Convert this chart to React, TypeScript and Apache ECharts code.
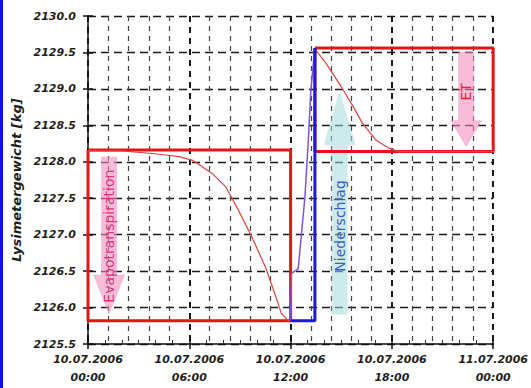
import React, { useEffect, useRef } from "react";
import * as echarts from "echarts";

// Hours since 10.07.2006 00:00
const xTickLabels = [
  "10.07.2006\n00:00",
  "10.07.2006\n06:00",
  "10.07.2006\n12:00",
  "10.07.2006\n18:00",
  "11.07.2006\n00:00",
];

// Weight decline by evapotranspiration until noon
const evapHours = [0, 2, 4, 5.4, 6.2, 7.35, 8.15, 8.9, 9.7, 10.5, 11.05, 11.45, 11.85, 12];
const evapWeight = [2128.15, 2128.15, 2128.11, 2128.07, 2128.02, 2127.84, 2127.66, 2127.34, 2126.97, 2126.56, 2126.2, 2125.92, 2125.82, 2125.82];

// Measured rise during the rain event
const rainHours = [12.0, 12.05, 12.45, 12.85, 13.05, 13.2, 13.42];
const rainWeight = [2125.83, 2126.47, 2126.53, 2127.52, 2128.3, 2128.98, 2129.53];

// Precipitation step (balance)
const stepHours = [12, 13.44, 13.44];
const stepWeight = [2125.82, 2125.82, 2129.56];

// Weight decline after the rain (ET)
const etHours = [13.5, 14.1, 15.0, 15.7, 16.25, 17.05, 17.8, 18.4, 24];
const etWeight = [2129.53, 2129.35, 2129.03, 2128.76, 2128.53, 2128.3, 2128.19, 2128.14, 2128.14];

// Balance windows
const boxStart = [0, 13.44];
const boxEnd = [12, 24];
const boxTop = [2128.16, 2129.56];
const boxBottom = [2125.82, 2128.14];

// Annotation arrows: position (h), tail, tip, label centre (kg)
const arrowLabels = ["Evapotranspiration", "Niederschlag", "ET"];
const arrowHour = [1.25, 14.9, 22.4];
const arrowTail = [2128.07, 2125.9, 2129.51];
const arrowTip = [2125.9, 2128.98, 2128.2];
const arrowLabelAt = [2126.98, 2127.12, 2128.96];

const arrowFill = ["rgba(243,140,188,0.58)", "rgba(165,218,218,0.55)", "rgba(243,140,188,0.58)"];
const arrowText = ["#e0347c", "#3a5ccc", "#e8243c"];
const arrowHeadLen = [40, 55, 27];

const pairs = (xs: number[], ys: number[]) => xs.map((x, i) => [x, ys[i]]);

const boxPath = (i: number) => [
  [boxStart[i], boxTop[i]],
  [boxEnd[i], boxTop[i]],
  [boxEnd[i], boxBottom[i]],
  [boxStart[i], boxBottom[i]],
  [boxStart[i], boxTop[i]],
];

const tickFont = {
  fontFamily: "DejaVu Sans",
  fontWeight: "bold" as const,
  fontStyle: "italic" as const,
  fontSize: 11,
  color: "#1e1e1e",
};

export default function App() {
  const ref = useRef<HTMLDivElement>(null);

  useEffect(() => {
    if (!ref.current) return;
    const chart = echarts.init(ref.current, undefined, { renderer: "svg" });

    const lineBase = {
      type: "line" as const,
      symbol: "none",
      showSymbol: false,
      xAxisIndex: 0,
      yAxisIndex: 0,
    };

    chart.setOption({
      animation: false,
      backgroundColor: "#ffffff",
      grid: { left: 88, right: 34, top: 16, bottom: 44, containLabel: false },
      graphic: [
        {
          type: "rect",
          left: 0,
          top: 0,
          shape: { x: 0, y: 0, width: 3, height: 388 },
          style: { fill: "#1212d8" },
        },
      ],
      xAxis: [
        {
          type: "value",
          min: 0,
          max: 24,
          interval: 6,
          position: "bottom",
          axisLine: { lineStyle: { color: "#111", width: 1.5 } },
          axisTick: { show: true, length: 5, lineStyle: { color: "#111", width: 1.5 } },
          axisLabel: {
            ...tickFont,
            margin: 6,
            lineHeight: 18,
            formatter: (v: number) => xTickLabels[Math.round(v / 6)] ?? "",
          },
          splitLine: { show: true, lineStyle: { color: "#1a1a1a", width: 2, type: [6, 5] } },
          minorTick: { show: false },
          minorSplitLine: { show: true, lineStyle: { color: "#444", width: 1.2, type: [5, 5] } },
        },
        {
          type: "value",
          min: 0,
          max: 24,
          interval: 6,
          position: "bottom",
          axisLine: { show: false },
          axisTick: { show: true, inside: true, length: 5, lineStyle: { color: "#111", width: 1.5 } },
          minorTick: { show: true, splitNumber: 6, length: 4, lineStyle: { color: "#333", width: 1 } },
          axisLabel: { show: false },
          splitLine: { show: false },
        },
      ],
      yAxis: [
        {
          type: "value",
          min: 2125.5,
          max: 2130,
          interval: 0.5,
          name: "Lysimetergewicht [kg]",
          nameLocation: "middle",
          nameRotate: 90,
          nameGap: 62,
          nameTextStyle: {
            fontFamily: "DejaVu Sans",
            fontWeight: "bold",
            fontStyle: "italic",
            fontSize: 13,
            color: "#1e1e1e",
          },
          axisLine: { show: true, lineStyle: { color: "#111", width: 1.5 } },
          axisTick: { show: true, length: 5, lineStyle: { color: "#111", width: 1.5 } },
          axisLabel: { ...tickFont, margin: 12, formatter: (v: number) => v.toFixed(1) },
          splitLine: { show: true, lineStyle: { color: "#1a1a1a", width: 1.4, type: [8, 5] } },
        },
        {
          type: "value",
          min: 2125.5,
          max: 2130,
          interval: 0.5,
          position: "left",
          axisLine: { show: false },
          axisTick: { show: true, inside: true, length: 5, lineStyle: { color: "#111", width: 1.5 } },
          axisLabel: { show: false },
          splitLine: { show: false },
        },
      ],
      series: [
        {
          type: "custom",
          name: "arrows",
          xAxisIndex: 0,
          yAxisIndex: 0,
          z: 1,
          encode: { x: 0, y: [1, 2] },
          data: arrowHour.map((h, i) => [h, arrowTail[i], arrowTip[i], arrowLabelAt[i]]),
          renderItem: (params: any, api: any) => {
            const i = params.dataIndex;
            const pTail = api.coord([api.value(0), api.value(1)]);
            const pTip = api.coord([api.value(0), api.value(2)]);
            const pLab = api.coord([api.value(0), api.value(3)]);
            const dir = pTip[1] > pTail[1] ? 1 : -1;
            const cx = pTail[0];
            const sw = 8;
            const hw = 16;
            const baseY = pTip[1] - dir * arrowHeadLen[i];
            const points = [
              [cx - sw, pTail[1]],
              [cx + sw, pTail[1]],
              [cx + sw, baseY],
              [cx + hw, baseY],
              [cx, pTip[1]],
              [cx - hw, baseY],
              [cx - sw, baseY],
            ];
            return {
              type: "group",
              children: [
                { type: "polygon", shape: { points }, style: { fill: arrowFill[i] } },
                {
                  type: "text",
                  x: cx,
                  y: pLab[1],
                  rotation: Math.PI / 2,
                  style: {
                    text: arrowLabels[i],
                    fill: arrowText[i],
                    font: "14px 'DejaVu Sans'",
                    align: "center",
                    verticalAlign: "middle",
                  },
                },
              ],
            };
          },
        },
        { ...lineBase, name: "box1", z: 3, data: boxPath(0), lineStyle: { color: "#e81414", width: 3 } },
        { ...lineBase, name: "box2", z: 3, data: boxPath(1), lineStyle: { color: "#e81414", width: 3 } },
        { ...lineBase, name: "evap", z: 4, data: pairs(evapHours, evapWeight), lineStyle: { color: "#e0443f", width: 1.2 } },
        { ...lineBase, name: "et", z: 4, data: pairs(etHours, etWeight), lineStyle: { color: "#e0443f", width: 1.2 } },
        { ...lineBase, name: "rain", z: 5, data: pairs(rainHours, rainWeight), lineStyle: { color: "#7a55e0", width: 1.5 } },
        { ...lineBase, name: "step", z: 5, data: pairs(stepHours, stepWeight), lineStyle: { color: "#1a1ad8", width: 3 } },
      ],
    });

    return () => chart.dispose();
  }, []);

  return (
    <div
      ref={ref}
      style={{ position: "absolute", left: 0, top: 0, width: 531, height: 388, background: "#fff" }}
    />
  );
}
